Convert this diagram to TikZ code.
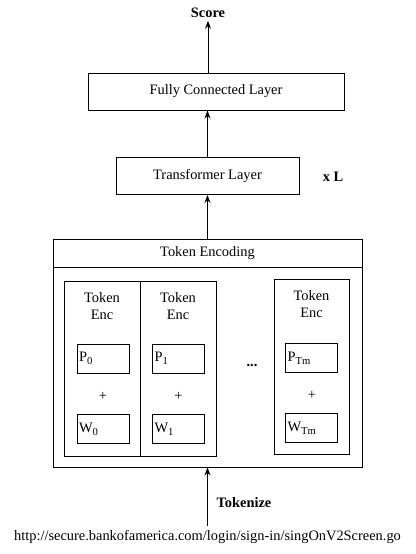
\documentclass[tikz,border=0pt]{standalone}
\usepackage{fontspec}
\setmainfont{Liberation Serif}
\usetikzlibrary{arrows.meta}
\newcommand{\lowsub}[1]{\raisebox{-0.45ex}{\fontsize{8}{8}\selectfont #1}}
\begin{document}
\begin{tikzpicture}[x=0.75pt,y=-0.75pt,
  font=\fontsize{10.8}{12.5}\selectfont,
  box/.style={draw,line width=0.7pt,inner sep=0pt},
  sub/.style={draw,line width=0.7pt,inner sep=1.5pt,minimum height=29*0.75pt,text width=36pt,align=left},
  arr/.style={line width=0.7pt,-{Stealth[length=6pt,width=4.5pt]}},
  plain/.style={inner sep=0pt}]
\useasboundingbox (0,0) rectangle (415,554);
% top
\node[plain,font=\fontsize{10.8}{12.5}\selectfont\bfseries] (score) at (208,13) {Score};
\node[box,minimum width=256*0.75pt,minimum height=37*0.75pt] (fc) at (216,91.5) {Fully Connected Layer};
\node[box,minimum width=183*0.75pt,minimum height=37*0.75pt] (tr) at (207.5,176) {Transformer Layer};
\node[plain,font=\fontsize{10.8}{12.5}\selectfont\bfseries] (xl) at (333,177) {x L};
% token encoding
\node[box,minimum width=309*0.75pt,minimum height=228*0.75pt] (te) at (207.5,353) {};
\node[box,minimum width=309*0.75pt,minimum height=28*0.75pt] (teh) at (207.5,253) {Token Encoding};
% inner boxes
\node[box,minimum width=76*0.75pt,minimum height=175*0.75pt] (e1) at (102,368.5) {};
\node[box,minimum width=76*0.75pt,minimum height=175*0.75pt] (e2) at (178,368.5) {};
\node[box,minimum width=75*0.75pt,minimum height=175*0.75pt] (e3) at (311.5,366.5) {};
\node[plain,align=center] (t1) at (102,306) {Token\\Enc};
\node[plain,align=center] (t2) at (178,306) {Token\\Enc};
\node[plain,align=center] (t3) at (311.5,304) {Token\\Enc};
\node[sub] (p1) at (103,358.5) {P\lowsub{0}};
\node[sub] (w1) at (103,429) {W\lowsub{0}};
\node[plain] (pl1) at (103,396) {+};
\node[sub] (p2) at (178.5,358.5) {P\lowsub{1}};
\node[sub] (w2) at (178.5,429) {W\lowsub{1}};
\node[plain] (pl2) at (178.5,396) {+};
\node[sub] (p3) at (311.5,358) {P\lowsub{Tm}};
\node[sub] (w3) at (311.5,428) {W\lowsub{Tm}};
\node[plain] (pl3) at (312,395) {+};
\node[plain,font=\fontsize{10.8}{12.5}\selectfont\bfseries] (dots) at (252,366) {...};
% bottom
\node[plain,font=\fontsize{10.8}{12.5}\selectfont\bfseries] (tok) at (244,503) {Tokenize};
\node[plain] (url) at (207.5,537) {http://secure.bankofamerica.com/login/sign-in/singOnV2Screen.go};
% arrows
\draw[arr] ([yshift=3pt]url.north -| te.south) -- (te.south);
\draw[arr] (teh.north -| tr.south) -- (tr.south);
\draw[arr] (tr.north) -- (fc.south -| tr.north);
\draw[arr] (fc.north -| score.south) -- ([yshift=-2pt]score.south);
\end{tikzpicture}
\end{document}
